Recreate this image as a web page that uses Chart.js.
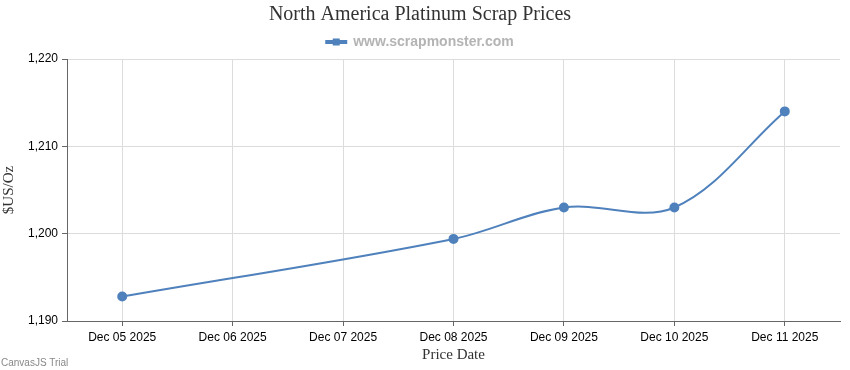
<!DOCTYPE html>
<html>
<head>
<meta charset="utf-8">
<script src="https://cdn.jsdelivr.net/npm/chart.js@4.4.1/dist/chart.umd.min.js"></script>
<style>
  html, body { margin: 0; padding: 0; background: #fff; }
  #wrap { position: relative; width: 850px; height: 370px; }
  #trial { position: absolute; left: 1px; bottom: 2px; font: 10px "Liberation Sans", Arial, sans-serif; color: #888; }
</style>
</head>
<body>
<div id="wrap">
  <canvas id="chart" width="850" height="370"></canvas>
  <div id="trial">CanvasJS Trial</div>
</div>
<script>
// axis days shown on the x axis
const dayLabels = ["Dec 05 2025", "Dec 06 2025", "Dec 07 2025", "Dec 08 2025", "Dec 09 2025", "Dec 10 2025", "Dec 11 2025"];
// dates that actually have a price
const priceDates = ["Dec 05 2025", "Dec 08 2025", "Dec 09 2025", "Dec 10 2025", "Dec 11 2025"];
const prices = [1192.8, 1199.4, 1203.0, 1203.0, 1214.0];
const yTicks = [1190, 1200, 1210, 1220];

const lineColor = "#4F81BC";

// draws the little square marker on top of the legend line (CanvasJS style)
const legendMarker = {
  id: "legendMarker",
  afterDraw(chart) {
    const lg = chart.legend;
    if (!lg || !lg.legendHitBoxes) return;
    const ctx = chart.ctx;
    lg.legendHitBoxes.forEach(box => {
      const cx = box.left + 10;
      const cy = box.top + box.height / 2;
      ctx.save();
      ctx.fillStyle = lineColor;
      ctx.fillRect(cx - 3.5, cy - 3.5, 7, 7);
      ctx.restore();
    });
  }
};

const ctx = document.getElementById("chart").getContext("2d");
new Chart(ctx, {
  type: "line",
  data: {
    datasets: [{
      label: "www.scrapmonster.com",
      data: priceDates.map((d, i) => ({ x: dayLabels.indexOf(d), y: prices[i] })),
      borderColor: lineColor,
      backgroundColor: lineColor,
      borderWidth: 2,
      pointRadius: 4,
      pointHoverRadius: 4,
      tension: 0.35,
      fill: false
    }]
  },
  options: {
    responsive: false,
    animation: false,
    layout: { padding: { left: 0, right: 10, top: 3, bottom: 6 } },
    plugins: {
      title: {
        display: true,
        text: "North America Platinum Scrap Prices",
        color: "#333",
        font: { family: "'Liberation Serif', 'Times New Roman', serif", size: 20, weight: "normal" },
        padding: { top: 0, bottom: 3 }
      },
      legend: {
        display: true,
        position: "top",
        labels: {
          boxWidth: 20,
          boxHeight: 2,
          color: "#b4b4b4",
          font: { family: "'Liberation Sans', Arial, sans-serif", size: 14, weight: "bold" },
          padding: 5
        }
      },
      tooltip: { enabled: false }
    },
    scales: {
      x: {
        type: "linear",
        min: -0.5,
        max: dayLabels.length - 0.5,
        afterBuildTicks: axis => { axis.ticks = dayLabels.map((_, i) => ({ value: i })); },
        afterFit: axis => { axis.height = 43; },
        ticks: {
          autoSkip: false,
          maxRotation: 0,
          color: "#000",
          font: { family: "'Liberation Sans', Arial, sans-serif", size: 12 },
          padding: 4,
          callback: v => dayLabels[v] || ""
        },
        grid: { color: "#dcdcdc", tickColor: "#666", tickLength: 5 },
        border: { color: "#666", width: 1 },
        title: {
          display: true,
          text: "Price Date",
          color: "#333",
          font: { family: "'Liberation Serif', 'Times New Roman', serif", size: 15 },
          padding: { top: 0, bottom: 0 }
        }
      },
      y: {
        min: 1190,
        max: 1220,
        afterBuildTicks: axis => { axis.ticks = yTicks.map(v => ({ value: v })); },
        afterFit: axis => { axis.width = 67; },
        ticks: {
          color: "#000",
          font: { family: "'Liberation Sans', Arial, sans-serif", size: 12 },
          padding: 4,
          callback: v => v.toLocaleString("en-US")
        },
        grid: { color: "#dcdcdc", tickColor: "#666", tickLength: 5 },
        border: { color: "#666", width: 1 },
        title: {
          display: true,
          text: "$US/Oz",
          color: "#333",
          font: { family: "'Liberation Serif', 'Times New Roman', serif", size: 15 },
          padding: { top: 0, bottom: 2 }
        }
      }
    }
  },
  plugins: [legendMarker]
});
</script>
</body>
</html>
